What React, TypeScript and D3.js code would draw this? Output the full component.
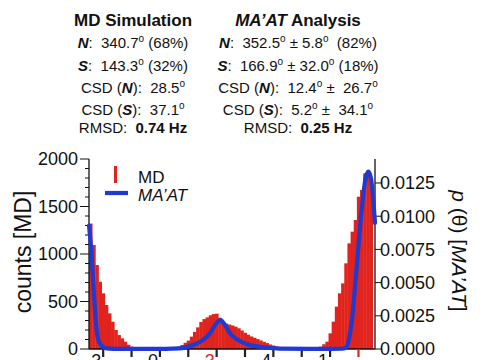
import { useEffect, useRef } from 'react';
import * as d3 from 'd3';

// MD histogram, 4-degree bins from 0 to 360
const BIN_WIDTH = 4;
const MD_COUNTS = [
  1320, 1095, 884, 708, 586, 463, 375, 287, 200, 147, 112, 77, 45, 25, 10, 5,
  2, 0, 0, 0, 0, 0, 0, 0, 0, 0, 0, 6,
  25, 42, 65, 88, 130, 180, 228, 285, 315, 333, 355, 368, 372, 330,
  277, 268, 258, 248, 235, 218, 195, 170, 150, 132, 118, 104, 90, 76, 62, 48, 37, 27, 16, 8, 3,
  0, 0, 0, 0, 0, 0, 0, 0, 4,
  10, 25, 50, 77, 165, 288, 446, 586, 691, 902, 1112, 1235, 1358, 1603, 1674, 1849, 1839, 1800,
];

// MA'AT probability density
const MAAT_THETA = [
  0, 2.5, 4.7, 6.7, 8.9, 11, 15, 22, 40, 80, 115, 132, 145, 153.6, 160, 166.9, 172.6, 179,
  187.5, 200, 217, 242, 280, 322, 327, 331.3, 334.7, 337.6, 340.5, 344, 347.4, 350.7, 354.5,
  357.9, 360.8, 363,
];
const MAAT_DENSITY = [
  0.0093, 0.0077, 0.0057, 0.0037, 0.0019, 0.0009, 0.0003, 0.00005, 0.00001, 0.00001, 0.00005,
  0.0003, 0.00068, 0.00118, 0.0018, 0.00218, 0.0018, 0.00118, 0.00073, 0.00038, 0.00017,
  0.00003, 0.00001, 0.00002, 0.00017, 0.00118, 0.00269, 0.00469, 0.0067, 0.0092, 0.01122,
  0.01273, 0.01335, 0.01285, 0.01122, 0.0095,
];

const COUNT_TICKS = [0, 500, 1000, 1500, 2000];
const DENSITY_TICKS = [0, 0.0025, 0.005, 0.0075, 0.01, 0.0125];
const X_TICKS = [18, 54, 90, 126, 162, 198, 234, 270, 306, 342];
const X_TICK_LABELS = ['3', '', '0', '', '3', '', '4', '', '1', ''];

type Seg = { t: string; b?: boolean; i?: boolean; sup?: boolean };

const MD_LINES: Seg[][] = [
  [{ t: 'MD Simulation', b: true }],
  [{ t: 'N', b: true, i: true }, { t: ':  340.7' }, { t: 'o', sup: true }, { t: ' (68%)' }],
  [{ t: 'S', b: true, i: true }, { t: ':  143.3' }, { t: 'o', sup: true }, { t: ' (32%)' }],
  [{ t: 'CSD (' }, { t: 'N', b: true, i: true }, { t: '):  28.5' }, { t: 'o', sup: true }],
  [{ t: 'CSD (' }, { t: 'S', b: true, i: true }, { t: '):  37.1' }, { t: 'o', sup: true }],
  [{ t: 'RMSD:  ' }, { t: '0.74 Hz', b: true }],
];

const MAAT_LINES: Seg[][] = [
  [{ t: 'MA’AT', b: true, i: true }, { t: ' Analysis', b: true }],
  [{ t: 'N', b: true, i: true }, { t: ':  352.5' }, { t: 'o', sup: true }, { t: ' ± 5.8' }, { t: 'o', sup: true }, { t: '  (82%)' }],
  [{ t: 'S', b: true, i: true }, { t: ':  166.9' }, { t: 'o', sup: true }, { t: ' ± 32.0' }, { t: 'o', sup: true }, { t: ' (18%)' }],
  [{ t: 'CSD (' }, { t: 'N', b: true, i: true }, { t: '):  12.4' }, { t: 'o', sup: true }, { t: ' ±  26.7' }, { t: 'o', sup: true }],
  [{ t: 'CSD (' }, { t: 'S', b: true, i: true }, { t: '):  5.2' }, { t: 'o', sup: true }, { t: ' ±  34.1' }, { t: 'o', sup: true }],
  [{ t: 'RMSD:  ' }, { t: '0.25 Hz', b: true }],
];

const LINE_Y = [26, 48, 71, 93, 115, 133];
const RED = '#e0241d';
const BLUE = '#1f3ad0';
const FONT = '"Liberation Sans", Arial, Helvetica, sans-serif';

export default function App() {
  const ref = useRef<SVGSVGElement>(null);

  useEffect(() => {
    if (!ref.current) return;
    const svg = d3.select(ref.current);
    svg.selectAll('*').remove();
    svg.attr('font-family', FONT);

    const x = d3.scaleLinear().domain([0, 363]).range([89, 375]);
    const yC = d3.scaleLinear().domain([0, 2000]).range([349, 159]);
    const yD = d3.scaleLinear().domain([0, 0.014307]).range([349, 159]);

    // header text block
    const writeLines = (lines: Seg[][], cx: number) => {
      lines.forEach((segs, li) => {
        const txt = svg.append('text')
          .attr('x', cx).attr('y', LINE_Y[li])
          .attr('text-anchor', 'middle')
          .attr('font-size', li === 0 ? 17 : 15)
          .style('white-space', 'pre')
          .attr('fill', '#111');
        let raised = false;
        segs.forEach(s => {
          const ts = txt.append('tspan').text(s.t);
          if (s.b || li === 0) ts.attr('font-weight', 'bold');
          if (s.i) ts.attr('font-style', 'italic');
          if (s.sup) { ts.attr('font-size', 10).attr('dy', -6); raised = true; }
          else if (raised) { ts.attr('dy', 6); raised = false; }
        });
      });
    };
    writeLines(MD_LINES, 133);
    writeLines(MAAT_LINES, 298);

    // histogram bars
    svg.append('g').selectAll('rect').data(MD_COUNTS).enter().append('rect')
      .attr('x', (_, i) => x(i * BIN_WIDTH))
      .attr('width', x(BIN_WIDTH) - x(0) + 0.4)
      .attr('y', d => yC(d))
      .attr('height', d => yC(0) - yC(d))
      .attr('fill', RED);

    // axes lines
    svg.append('line').attr('x1', 89).attr('x2', 375).attr('y1', 349).attr('y2', 349)
      .attr('stroke', '#111').attr('stroke-width', 1.3);
    svg.append('line').attr('x1', 89).attr('x2', 89).attr('y1', 349).attr('y2', 159)
      .attr('stroke', '#111').attr('stroke-width', 1.3);
    svg.append('line').attr('x1', 375).attr('x2', 375).attr('y1', 349).attr('y2', 159)
      .attr('stroke', '#111').attr('stroke-width', 1.3);

    // left axis: minor + major ticks
    const minor = d3.range(0, 2001, 100);
    svg.append('g').selectAll('line').data(minor).enter().append('line')
      .attr('x1', d => (d % 500 === 0 ? 80 : 85)).attr('x2', 89)
      .attr('y1', d => yC(d)).attr('y2', d => yC(d))
      .attr('stroke', '#111').attr('stroke-width', 1);
    svg.append('g').selectAll('text').data(COUNT_TICKS).enter().append('text')
      .attr('x', 78).attr('y', d => yC(d)).attr('dy', '0.36em')
      .attr('text-anchor', 'end').attr('font-size', 18).attr('fill', '#111')
      .text(d => String(d));

    // right axis
    svg.append('g').selectAll('line').data(DENSITY_TICKS).enter().append('line')
      .attr('x1', 375).attr('x2', 381)
      .attr('y1', d => yD(d)).attr('y2', d => yD(d))
      .attr('stroke', '#111').attr('stroke-width', 1);
    svg.append('g').selectAll('text').data(DENSITY_TICKS).enter().append('text')
      .attr('x', 380).attr('y', d => yD(d)).attr('dy', '0.36em')
      .attr('font-size', 18).attr('fill', '#111')
      .text(d => d3.format('.4f')(d));

    // bottom ticks and (mostly cropped) labels
    svg.append('g').selectAll('line').data(X_TICKS).enter().append('line')
      .attr('x1', d => x(d)).attr('x2', d => x(d)).attr('y1', 349).attr('y2', 357)
      .attr('stroke', (d, i) => (i === 9 ? RED : '#222')).attr('stroke-width', 2.2);
    svg.append('g').selectAll('text').data(X_TICKS).enter().append('text')
      .attr('x', d => x(d) - 7).attr('y', 367)
      .attr('text-anchor', 'middle').attr('font-size', 18)
      .attr('fill', (d, i) => (i === 4 ? RED : '#111'))
      .text((d, i) => X_TICK_LABELS[i]);

    // MA'AT curve
    const pts = MAAT_THETA.map((t, i) => [t, MAAT_DENSITY[i]] as [number, number]);
    const line = d3.line<[number, number]>()
      .x(d => x(d[0])).y(d => yD(d[1]))
      .curve(d3.curveMonotoneX);
    svg.append('path').datum(pts).attr('d', line)
      .attr('fill', 'none').attr('stroke', BLUE).attr('stroke-width', 4.2)
      .attr('stroke-linejoin', 'round').attr('stroke-linecap', 'round');

    // legend
    svg.append('rect').attr('x', 114).attr('y', 166).attr('width', 3).attr('height', 17).attr('fill', RED);
    svg.append('text').attr('x', 138).attr('y', 183).attr('font-size', 17).attr('fill', '#111').text('MD');
    svg.append('line').attr('x1', 105).attr('x2', 128).attr('y1', 193).attr('y2', 193)
      .attr('stroke', BLUE).attr('stroke-width', 4.2);
    svg.append('text').attr('x', 138).attr('y', 201).attr('font-size', 17).attr('font-style', 'italic')
      .attr('fill', '#111').text('MA’AT');

    // axis titles
    svg.append('text').attr('transform', 'translate(31,252) rotate(-90)')
      .attr('text-anchor', 'middle').attr('font-size', 23).attr('fill', '#111')
      .text('counts [MD]');
    const rt = svg.append('text').attr('transform', 'translate(452,251) rotate(90)')
      .attr('text-anchor', 'middle').attr('font-size', 21).attr('fill', '#111')
      .style('white-space', 'pre');
    rt.append('tspan').attr('font-style', 'italic').text('p');
    rt.append('tspan').text(' (θ) [');
    rt.append('tspan').attr('font-style', 'italic').text('MA’AT');
    rt.append('tspan').text(']');
  }, []);

  return (
    <svg ref={ref} width={485} height={360}
      style={{ position: 'absolute', left: 0, top: 0, background: '#fff' }} />
  );
}
